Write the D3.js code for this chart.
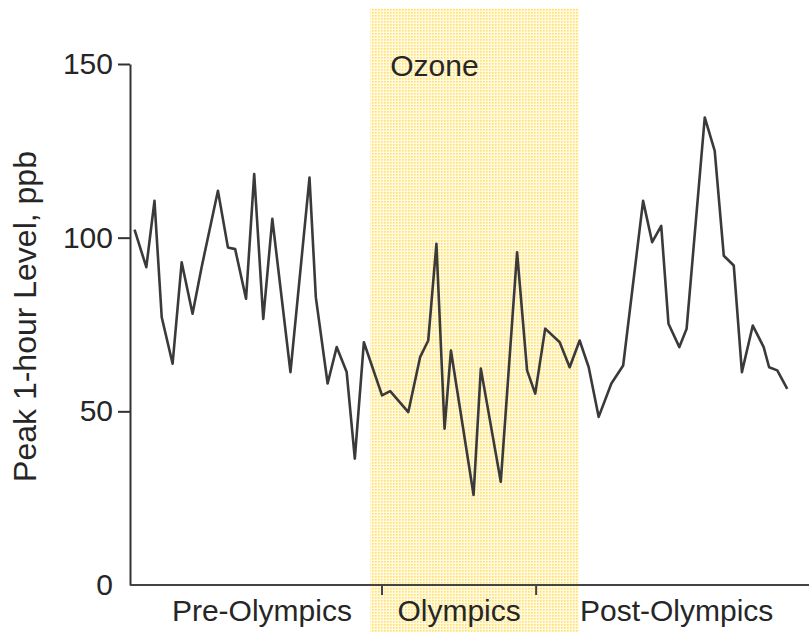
<!DOCTYPE html>
<html>
<head>
<meta charset="utf-8">
<script src="https://cdn.jsdelivr.net/npm/d3@7"></script>
<style>
  html, body { margin: 0; padding: 0; background: #fff; }
  svg text { font-family: "Liberation Sans", Arial, Helvetica, sans-serif; fill: #262626; }
</style>
</head>
<body>
<svg id="chart" width="809" height="632"></svg>
<script>
// day index (from start of baseline period) and peak 1-hour ozone, ppb
const days = [0.2, 1.5, 2.4, 3.2, 4.4, 5.4, 6.6, 7.6, 9.4, 10.5, 11.3, 12.5, 13.4, 14.4, 15.4,
  17.4, 19.5, 20.2, 21.5, 22.5, 23.6, 24.5, 25.5, 27.5, 28.4, 30.4, 31.7, 32.6, 33.5, 34.4,
  35.1, 37.6, 38.4, 40.6, 42.4, 43.5, 44.4, 45.5, 47.1, 48.2, 49.3, 50.3, 51.4, 52.8, 54.1,
  56.3, 57.3, 58.3, 59.1, 60.3, 61.1, 63.1, 64.2, 65.2, 66.3, 67.2, 68.4, 69.6, 70.2, 71.1, 72.2];
const ozone = [102.3, 91.5, 110.6, 77.1, 63.7, 92.9, 78.1, 91.5, 113.5, 97.2, 96.7, 82.4, 118.3, 76.6, 105.4,
  61.3, 117.3, 82.8, 58, 68.5, 61.3, 36.4, 69.9, 54.6, 55.8, 49.8, 65.6, 70.4, 98.2, 45,
  67.5, 25.9, 62.3, 29.7, 95.8, 61.8, 55.1, 73.8, 69.9, 62.7, 70.4, 62.7, 48.4, 58, 63.2,
  110.6, 98.7, 103.4, 75.2, 68.5, 73.8, 134.6, 125, 94.8, 92, 61.3, 74.7, 68.5, 62.7, 61.8, 56.5];

const periods = ["Pre-Olympics", "Olympics", "Post-Olympics"];
const periodBounds = [1, 27.5, 44.5, 75.5];   // label spans, in days
const yTicks = [0, 50, 100, 150];
const panelDays = [26.2, 49.2];               // yellow "Ozone" panel
const panelTitle = "Ozone";
const yTitle = "Peak 1-hour Level, ppb";

const width = 809, height = 632;
const svg = d3.select("#chart");

const x = d3.scaleLinear().domain([-0.3, 74.6]).range([130, width]);
const y = d3.scaleLinear().domain([0, 150]).range([585, 64]);

// dotted yellow fill
const pat = svg.append("defs").append("pattern")
    .attr("id", "dots")
    .attr("width", 3).attr("height", 3)
    .attr("patternUnits", "userSpaceOnUse");
pat.append("rect").attr("width", 3).attr("height", 3).attr("fill", "#fffae0");
pat.append("rect").attr("width", 1.6).attr("height", 1.6).attr("fill", "#ffe070");

svg.append("rect")
    .attr("x", x(panelDays[0]))
    .attr("y", 8)
    .attr("width", x(panelDays[1]) - x(panelDays[0]))
    .attr("height", height - 8)
    .attr("fill", "url(#dots)");

svg.append("text")
    .attr("x", x(panelDays[0]) + 20)
    .attr("y", 76)
    .style("font-size", "30px")
    .text(panelTitle);

// y axis
const yAxis = svg.append("g")
    .attr("transform", "translate(130,0)")
    .call(d3.axisLeft(y).tickValues(yTicks).tickSize(12).tickSizeOuter(0).tickPadding(5));
yAxis.select(".domain").attr("stroke", "#333").attr("stroke-width", 2);
yAxis.selectAll(".tick line").attr("stroke", "#333").attr("stroke-width", 2)
    .filter(d => d === 0).remove();
yAxis.selectAll(".tick text")
    .style("font-size", "30px")
    .style("font-family", "'Liberation Sans', Arial, sans-serif")
    .attr("fill", "#262626");

svg.append("text")
    .attr("transform", `translate(36,${(y(0) + y(150)) / 2 - 8}) rotate(-90)`)
    .attr("text-anchor", "middle")
    .style("font-size", "32px")
    .text(yTitle);

// x axis line + period separators
svg.append("line")
    .attr("x1", 130).attr("x2", width)
    .attr("y1", y(0)).attr("y2", y(0))
    .attr("stroke", "#444").attr("stroke-width", 2);

svg.selectAll(".sep")
    .data(periodBounds.slice(1, -1))
    .join("line")
    .attr("class", "sep")
    .attr("x1", d => x(d)).attr("x2", d => x(d))
    .attr("y1", y(0)).attr("y2", y(0) + 10)
    .attr("stroke", "#444").attr("stroke-width", 2);

svg.selectAll(".period")
    .data(periods)
    .join("text")
    .attr("class", "period")
    .attr("x", (d, i) => x((periodBounds[i] + periodBounds[i + 1]) / 2))
    .attr("y", 621)
    .attr("text-anchor", "middle")
    .style("font-size", "30px")
    .text(d => d);

// ozone series
const line = d3.line()
    .x(d => x(d[0]))
    .y(d => y(d[1]));

svg.append("path")
    .datum(d3.zip(days, ozone))
    .attr("fill", "none")
    .attr("stroke", "#3a3a3a")
    .attr("stroke-width", 2.6)
    .attr("stroke-linejoin", "round")
    .attr("d", line);
</script>
</body>
</html>
